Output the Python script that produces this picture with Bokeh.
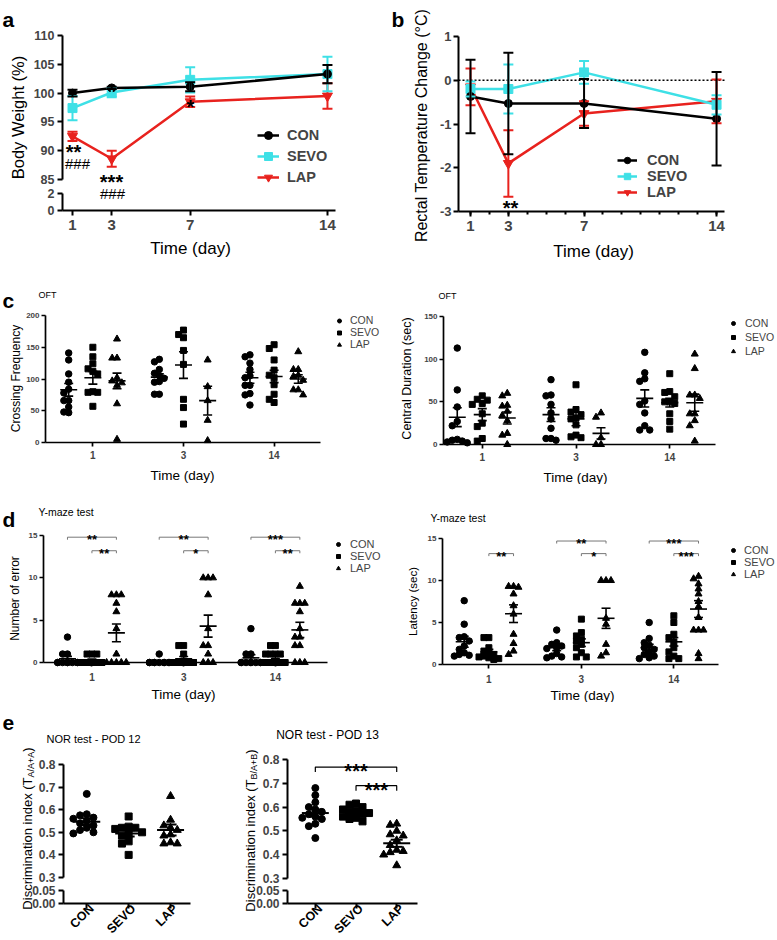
import math
from bokeh.plotting import figure
from bokeh.models import (Range1d, LinearAxis, FixedTicker, Label, Legend,
                          LegendItem, Whisker, TeeHead, ColumnDataSource)
from bokeh.layouts import row, column
from bokeh.embed import file_html
from bokeh.resources import INLINE

FONT = "Liberation Sans"
CYAN = "#3ee0e6"
RED = "#e8221e"

# ---------------- data ----------------
days = [1, 3, 7, 14]
groups = ["CON", "SEVO", "LAP"]
beh_day_labels = ["1", "3", "14"]

# (a) body weight (%) mean / SEM
bw_con = [100.0, 100.9, 101.1, 103.3]
bw_con_sem = [0.6, 0.2, 0.8, 1.6]
bw_sevo = [97.4, 100.1, 102.3, 103.3]
bw_sevo_sem = [2.1, 0.8, 2.2, 3.0]
bw_lap = [92.5, 88.6, 98.5, 99.5]
bw_lap_sem = [0.8, 1.4, 0.9, 2.2]
bw_ticks = [85, 90, 95, 100, 105, 110]
bw_low_ticks = [0, 2]

# (b) rectal temperature change mean / SEM
rt_con = [-0.37, -0.53, -0.53, -0.88]
rt_con_sem = [0.84, 1.16, 0.56, 1.07]
rt_sevo = [-0.20, -0.20, 0.18, -0.56]
rt_sevo_sem = [0.17, 0.56, 0.26, 0.22]
rt_lap = [-0.15, -1.90, -0.76, -0.48]
rt_lap_sem = [0.42, 0.76, 0.28, 0.50]
rt_ticks = [-3, -2, -1, 0, 1]

# (c) OFT crossing frequency, per group, per day (1, 3, 14)
cf_con = [[141, 130, 108, 95, 84, 78, 66, 66, 56, 47, 48],
          [131, 127, 115, 109, 105, 101, 96, 95, 76, 76],
          [138, 135, 125, 115, 105, 102, 90, 90, 77, 75, 59]]
cf_sevo = [[150, 135, 124, 116, 112, 108, 80, 79, 79, 57],
           [177, 170, 165, 145, 123, 68, 55, 29],
           [154, 148, 130, 114, 106, 102, 91, 76, 68, 63]]
cf_lap = [[163, 133, 133, 102, 97, 94, 90, 61, 5],
          [130, 88, 66, 35, 3],
          [143, 115, 115, 106, 104, 98, 83, 83, 75]]
cf_mean = [[83, 103, 102], [102, 122, 104], [97, 66, 100]]
cf_sem = [[10, 5, 8.6], [10, 21, 9.7], [12.3, 22.7, 6.8]]
cf_ticks = [0, 50, 100, 150, 200]

# (c) OFT central duration (sec)
cd_con = [[113, 64, 44, 27, 22, 6, 5, 4, 3, 2],
          [76, 58, 57, 47, 37, 30, 19, 7, 7, 5],
          [108, 84, 77, 74, 51, 47, 37, 22, 17, 17]]
cd_sevo = [[57, 53, 52, 48, 47, 36, 25, 21, 7, 4],
           [70, 41, 38, 35, 31, 30, 23, 11, 9, 8],
           [83, 62, 61, 56, 50, 50, 48, 36, 27, 18]]
cd_lap = [[60, 57, 46, 45, 39, 34, 28, 13, 11, 0],
          [37, 32, 8, 0, 0],
          [106, 89, 58, 58, 54, 36, 36, 28, 22, 4]]
cd_mean = [[32, 35, 54], [35, 30, 49], [31, 13, 49]]
cd_sem = [[11, 8, 10], [7, 8, 5], [7, 6.6, 10]]
cd_ticks = [0, 50, 100, 150]

# (d) Y-maze number of errors
er_con = [[3, 1, 1, 0, 0, 0, 0, 0, 0, 0, 0],
          [1, 0, 0, 0, 0, 0, 0, 0, 0, 0],
          [4, 1, 1, 0, 0, 0, 0, 0, 0, 0, 0]]
er_sevo = [[1, 1, 1, 0, 0, 0, 0, 0, 0, 0, 0],
           [2, 2, 1, 0, 0, 0, 0, 0, 0, 0, 0],
           [2, 2, 1, 1, 1, 1, 0, 0, 0, 0, 0]]
er_lap = [[8, 8, 8, 7, 6, 4, 1, 0, 0, 0, 0, 0],
          [10, 10, 10, 8, 4, 2, 2, 1, 0, 0, 0],
          [9, 7, 7, 7, 6, 4, 3, 3, 2, 2, 0, 0, 0]]
er_mean = [[0.45, 0.1, 0.55], [0.27, 0.45, 0.73], [3.5, 4.3, 3.85]]
er_sem = [[0.27, 0.1, 0.37], [0.14, 0.25, 0.27], [1.05, 1.3, 0.9]]
er_brackets = [(0, 0, 2, 14.8, "**"), (0, 1, 2, 13.2, "**"),
               (1, 0, 2, 14.8, "**"), (1, 1, 2, 13.2, "*"),
               (2, 0, 2, 14.8, "***"), (2, 1, 2, 13.2, "**")]
ym_ticks = [0, 5, 10, 15]

# (d) Y-maze latency (sec)
la_con = [[7.6, 4.8, 3.3, 3.2, 2.8, 2.2, 1.8, 1.4, 1.2, 1.1, 1.0],
          [4.1, 2.6, 2.4, 2.2, 2.0, 1.9, 1.3, 1.0, 0.9, 0.8],
          [5.0, 3.1, 2.6, 2.3, 2.0, 1.8, 1.5, 1.2, 1.0, 0.8, 0.7]]
la_sevo = [[3.2, 3.2, 2.0, 1.6, 1.4, 1.2, 1.0, 0.9, 0.8, 0.7, 0.6],
           [5.4, 3.8, 3.4, 3.0, 2.8, 2.4, 2.0, 1.4, 0.9, 0.9],
           [5.8, 5.0, 3.6, 3.2, 2.7, 2.0, 1.5, 1.0, 0.7, 0.7]]
la_lap = [[9.3, 9.3, 9.2, 8.4, 7.0, 6.0, 3.6, 2.5, 1.6, 1.2],
          [10, 10, 10, 5.5, 4.8, 2.4, 1.4, 1.0],
          [10.5, 10.2, 9.6, 9.0, 8.4, 7.5, 6.9, 5.6, 4.1, 4.1, 4.1, 1.3, 0.7]]
la_mean = [[2.7, 2.0, 2.0], [1.5, 2.6, 2.7], [6.05, 5.5, 6.6]]
la_sem = [[0.65, 0.35, 0.4], [0.3, 0.45, 0.5], [1.05, 1.2, 1.0]]
la_brackets = [(0, 1, 2, 13.2, "**"),
               (1, 0, 2, 14.7, "**"), (1, 1, 2, 13.2, "*"),
               (2, 0, 2, 14.7, "***"), (2, 1, 2, 13.2, "***")]

# (e) NOR discrimination index
n12_con = [0.67, 0.58, 0.575, 0.565, 0.56, 0.55, 0.54, 0.53, 0.52, 0.51, 0.50, 0.495]
n12_sevo = [0.57, 0.525, 0.52, 0.52, 0.515, 0.50, 0.49, 0.485, 0.46, 0.45, 0.40]
n12_lap = [0.66, 0.555, 0.53, 0.52, 0.51, 0.49, 0.485, 0.455, 0.45, 0.45]
n12_mean = [0.547, 0.495, 0.51]
n12_sem = [0.015, 0.014, 0.024]
n13_con = [0.68, 0.65, 0.62, 0.60, 0.59, 0.58, 0.57, 0.56, 0.555, 0.55, 0.53, 0.52, 0.47]
n13_sevo = [0.615, 0.61, 0.60, 0.59, 0.585, 0.58, 0.575, 0.57, 0.56, 0.555, 0.55, 0.54]
n13_lap = [0.53, 0.525, 0.50, 0.485, 0.48, 0.46, 0.44, 0.42, 0.415, 0.41, 0.40, 0.355]
n13_mean = [0.575, 0.577, 0.448]
n13_sem = [0.015, 0.008, 0.015]
n13_brackets = [(0, 2, 0.768, "***"), (1, 2, 0.69, "***")]
nor_ticks = [0.3, 0.4, 0.5, 0.6, 0.7, 0.8]
nor_low_ticks = [0.0, 0.05]

# ---------------- helpers ----------------
ARIAL = {'D': 722, 'i': 222, 's': 500, 'c': 500, 'r': 333, 'm': 833, 'n': 556,
         'a': 556, 't': 278, 'o': 556, ' ': 278, 'd': 556, 'e': 556, 'x': 500,
         '(': 333, 'T': 611, 'A': 667, '/': 278, '+': 584, ')': 333, 'B': 667}


def twidth(s, size):
    return sum(ARIAL.get(ch, 556) for ch in s) * size / 1000.0


class Panel:
    """A figure whose frame is its whole canvas; box = pixel box where xr/yr map."""

    def __init__(self, canvas, box, xr, yr):
        cl, ct, cr, cb = canvas
        self.cl, self.ct, self.cr, self.cb = canvas
        self.fl, self.ft, self.fr, self.fb = box
        self.ppx = (self.fr - self.fl) / (xr[1] - xr[0])
        self.ppy = (self.fb - self.ft) / (yr[1] - yr[0])
        self.xr, self.yr = xr, yr
        p = figure(width=cr - cl, height=cb - ct,
                   x_range=Range1d(self.X(cl), self.X(cr)),
                   y_range=Range1d(self.Y(cb), self.Y(ct)),
                   min_border_left=0, min_border_right=0, min_border_top=0,
                   min_border_bottom=0, title=None,
                   x_axis_location=None, y_axis_location=None,
                   output_backend="svg", toolbar_location=None, tools="")
        p.grid.visible = False
        p.outline_line_color = None
        self.p = p

    def X(self, rx):
        return self.xr[0] + (rx - self.fl) / self.ppx

    def Y(self, ry):
        return self.yr[0] + (self.fb - ry) / self.ppy


def label_at(pn, x, y, s, size, bold=False, align="left", baseline="middle", angle=0.0):
    pn.p.add_layout(Label(x=x, y=y, text=s, text_font=FONT,
                          text_font_size=f"{size}px",
                          text_font_style="bold" if bold else "normal",
                          text_align=align, text_baseline=baseline, angle=angle,
                          text_color="black"))


def text(pn, rx, ry, s, size, bold=False, align="left", baseline="middle", angle=0.0):
    label_at(pn, pn.X(rx), pn.Y(ry), s, size, bold, align, baseline, angle)


def axis(pn, side, ticks, labels, size, lw, fixed, bounds, tick_out=5, standoff=4,
         minor=None, line=True):
    ax = LinearAxis(ticker=FixedTicker(ticks=list(ticks), minor_ticks=list(minor or [])),
                    major_label_overrides={t: l for t, l in zip(ticks, labels)},
                    axis_line_width=lw, axis_line_color="black" if line else None,
                    major_tick_line_width=lw, major_tick_out=tick_out, major_tick_in=0,
                    minor_tick_line_width=lw, minor_tick_out=3 if minor else 0, minor_tick_in=0,
                    major_label_text_font=FONT, major_label_text_font_size=f"{size}px",
                    major_label_text_font_style="bold", major_label_standoff=standoff,
                    fixed_location=fixed, bounds=bounds)
    pn.p.add_layout(ax, side)
    return ax


def bare_left(pn, bounds, lw):
    ax = LinearAxis(ticker=FixedTicker(ticks=[]), bounds=bounds, axis_line_width=lw,
                    major_tick_out=0, major_tick_in=0, minor_tick_out=0, minor_tick_in=0,
                    major_label_standoff=0, fixed_location=pn.X(pn.fl))
    pn.p.add_layout(ax, "left")


def broken_left(pn, main_ticks, low_ticks, low_ref, main_fmt, low_fmt, size, lw, standoff):
    low_pos = [round(pn.Y(r), 5) for r in low_ref]
    bare_left(pn, (main_ticks[0], main_ticks[-1]), lw)
    bare_left(pn, (low_pos[0], low_pos[-1]), lw)
    ticks = list(main_ticks) + low_pos
    labels = [main_fmt(t) for t in main_ticks] + [low_fmt(t) for t in low_ticks]
    axis(pn, "left", ticks, labels, size, lw, pn.X(pn.fl), (low_pos[0], main_ticks[-1]),
         tick_out=5, standoff=standoff, line=False)
    return low_pos


def x_axis(pn, ticks, labels, size, lw, at_ref, tick_out=5, standoff=4, minor=None):
    axis(pn, "below", ticks, labels, size, lw, pn.Y(at_ref), (pn.X(pn.fl), pn.X(pn.fr)),
         tick_out=tick_out, standoff=standoff, minor=minor)


def legend(pn, items, left_ref, bottom_ref, glyph_w, row_h, spacing, size, bold, standoff):
    lg = Legend(items=[LegendItem(label=l, renderers=r) for l, r in items],
                location=(left_ref - pn.cl, pn.cb - bottom_ref),
                glyph_width=glyph_w, glyph_height=row_h, label_height=row_h,
                spacing=spacing, padding=0, margin=0, label_standoff=standoff,
                label_text_font=FONT, label_text_font_size=f"{size}px",
                label_text_font_style="bold" if bold else "normal",
                border_line_color=None, background_fill_alpha=0)
    pn.p.add_layout(lg)


def series(pn, xs, m, s, color, marker, msize):
    src = ColumnDataSource(dict(x=xs, y=m, lo=[a - b for a, b in zip(m, s)],
                                hi=[a + b for a, b in zip(m, s)]))
    ln = pn.p.line("x", "y", source=src, line_color=color, line_width=2.5)
    pn.p.add_layout(Whisker(source=src, base="x", lower="lo", upper="hi",
                            line_color=color, line_width=2, level="glyph",
                            upper_head=TeeHead(size=10, line_color=color, line_width=2),
                            lower_head=TeeHead(size=10, line_color=color, line_width=2)))
    sc = pn.p.scatter("x", "y", source=src, marker=marker, size=msize,
                      fill_color=color, line_color=color)
    return [ln, sc]


def spread(vals, step, ytol, maxw):
    cands = [0.0]
    k = 1
    while k * step <= maxw + 1e-9:
        cands += [-k * step, k * step]
        k += 1
    placed, out = [], []
    for i, v in enumerate(vals):
        choice = None
        for c in cands:
            if all(abs(c - px) >= step * 0.99 or abs(v - py) >= ytol for px, py in placed):
                choice = c
                break
        if choice is None:
            choice = cands[i % len(cands)]
        placed.append((choice, v))
        out.append(choice)
    return out


MARKERS = ["circle", "square", "triangle"]


def dots(pn, data, means, sems, positions, offsets, step, ytol_px, maxw, msizes,
         dash, cap, lw):
    rends = []
    for g in range(3):
        xs, ys = [], []
        for d, pos in enumerate(positions):
            vals = data[g][d]
            offs = spread(vals, step, ytol_px / pn.ppy, maxw)
            xs += [pos + offsets[g] + o for o in offs]
            ys += list(vals)
        rends.append(pn.p.scatter(xs, ys, marker=MARKERS[g], size=msizes[g],
                                  fill_color="black", line_color="black"))
    for g in range(3):
        mx = [pos + offsets[g] for pos in positions]
        src = ColumnDataSource(dict(x=mx, m=means[g],
                                    lo=[a - b for a, b in zip(means[g], sems[g])],
                                    hi=[a + b for a, b in zip(means[g], sems[g])]))
        pn.p.scatter("x", "m", source=src, marker="dash", size=dash,
                     line_color="black", line_width=lw)
        pn.p.add_layout(Whisker(source=src, base="x", lower="lo", upper="hi",
                                line_color="black", line_width=lw, level="annotation",
                                upper_head=TeeHead(size=cap, line_color="black", line_width=lw),
                                lower_head=TeeHead(size=cap, line_color="black", line_width=lw)))
    return rends


def brackets(pn, specs, tick_px, color, lw, size, below_px):
    xs, ys = [], []
    t = tick_px / pn.ppy
    for (a, b, lvl, s) in specs:
        xs.append([a, a, b, b])
        ys.append([lvl - t, lvl, lvl, lvl - t])
        label_at(pn, (a + b) / 2, lvl - below_px / pn.ppy, s, size, bold=True,
                 align="center", baseline="alphabetic")
    pn.p.multi_line(xs, ys, line_color=color, line_width=lw)


def sub_ylabel(pn, cx, cy, main, sub, msize, ssize, shift):
    wm, ws, wc = twidth(main, msize), twidth(sub, ssize), twidth(")", msize)
    y0 = cy + (wm + ws + wc) / 2.0
    for rx, ry, s, sz in [(cx, y0, main, msize), (cx + shift, y0 - wm, sub, ssize),
                          (cx, y0 - wm - ws, ")", msize)]:
        text(pn, rx, ry, s, sz, align="left", angle=math.pi / 2)


ROT = math.pi / 2
DAY_POS = [0.0, 3.75, 7.5]
OFFS = [-1.0, 0.0, 1.0]

# ---------------- (a) ----------------
A = Panel((0, 0, 390, 264), (62, 35, 335, 179), (0.49, 14.41), (85, 110))
ra_lap = series(A, days, bw_lap, bw_lap_sem, RED, "inverted_triangle", 10)
ra_sevo = series(A, days, bw_sevo, bw_sevo_sem, CYAN, "square", 9)
ra_con = series(A, days, bw_con, bw_con_sem, "black", "circle", 8)
broken_left(A, bw_ticks, bw_low_ticks, [210 - 8.5 * v for v in bw_low_ticks],
            lambda t: str(t), lambda t: str(t), 12.5, 2, 3)
x_axis(A, days, [str(d) for d in days], 15, 2, 210, standoff=4)
legend(A, [("CON", ra_con), ("SEVO", ra_sevo), ("LAP", ra_lap)], 257, 187, 22, 20, 1, 14.5, True, 8)
text(A, 2, 19, "a", 21, bold=True, baseline="alphabetic")
text(A, 17, 117, "Body Weight (%)", 16.5, align="center", angle=ROT)
text(A, 190, 248, "Time (day)", 17, align="center")
text(A, 73, 151.6, "**", 20, bold=True, align="center")
text(A, 77, 163, "###", 15, align="center")
text(A, 111, 181.6, "***", 20, bold=True, align="center")
text(A, 112, 192.5, "###", 15, align="center")
text(A, 190, 106.6, "*", 20, bold=True, align="center")

# ---------------- (b) ----------------
B = Panel((390, 0, 775, 264), (458, 36, 724, 211), (0.366, 14.42), (-3, 1))
rb_lap = series(B, days, rt_lap, rt_lap_sem, RED, "inverted_triangle", 10)
rb_sevo = series(B, days, rt_sevo, rt_sevo_sem, CYAN, "square", 9)
rb_con = series(B, days, rt_con, rt_con_sem, "black", "circle", 8)
B.p.segment(x0=[B.X(458)], y0=[0], x1=[B.X(724)], y1=[0], line_color="black",
            line_dash="2 2", line_width=1.5)
axis(B, "left", rt_ticks, [str(t) for t in rt_ticks], 13, 2, B.X(458), (-3, 1), standoff=2)
x_axis(B, days, [str(d) for d in days], 15, 2, 211, standoff=4, minor=list(range(1, 15)))
legend(B, [("CON", rb_con), ("SEVO", rb_sevo), ("LAP", rb_lap)], 617, 200, 20, 16, 0, 14.5, True, 10)
text(B, 391, 19, "b", 21, bold=True, baseline="alphabetic")
text(B, 421, 125, "Rectal Temperature Change (°C)", 16, align="center", angle=ROT)
text(B, 593, 251, "Time (day)", 17, align="center")
text(B, 510, 207.6, "**", 20, bold=True, align="center")


def behaviour(pn, data, means, sems, yticks, leg_left, leg_bottom, leg_row, leg_size,
              leg_standoff, ystep_px, xstand):
    r = dots(pn, data, means, sems, DAY_POS, OFFS, 0.2, ystep_px, 0.4, [6.5, 6, 7], 17, 9, 1.6)
    axis(pn, "left", yticks, [str(t) for t in yticks], 8, 1.7, pn.X(pn.fl),
         (yticks[0], yticks[-1]), tick_out=4, standoff=2)
    x_axis(pn, DAY_POS, beh_day_labels, 10, 1.7, pn.fb, tick_out=4, standoff=xstand)
    legend(pn, list(zip(groups, [[x] for x in r])), leg_left, leg_bottom, 10, leg_row, 0,
           leg_size, False, leg_standoff)


# ---------------- (c) ----------------
CL = Panel((0, 264, 390, 484), (45, 315, 320, 442), (-1.96, 9.42), (0, 200))
behaviour(CL, [cf_con, cf_sevo, cf_lap], cf_mean, cf_sem, cf_ticks, 334, 350, 11, 10.5, 6, 5.5, 4)
text(CL, 2, 300, "c", 21, bold=True, baseline="alphabetic")
text(CL, 38, 294, "OFT", 9)
text(CL, 15, 378, "Crossing Frequency", 12, align="center", angle=ROT)
text(CL, 182, 475, "Time (day)", 13.5, align="center")

CR = Panel((390, 264, 775, 484), (443, 316, 715, 444), (-1.55, 9.33), (0, 150))
behaviour(CR, [cd_con, cd_sevo, cd_lap], cd_mean, cd_sem, cd_ticks, 728, 358, 14, 10.5, 7, 5.5, 4)
text(CR, 438, 295, "OFT", 9)
text(CR, 406, 378, "Central Duration (sec)", 12.5, align="center", angle=ROT)
text(CR, 575, 477, "Time (day)", 13.5, align="center")

# ---------------- (d) ----------------
DL = Panel((0, 484, 390, 702), (43, 535, 327, 662), (-1.98, 9.63), (0, 15))
behaviour(DL, [er_con, er_sevo, er_lap], er_mean, er_sem, ym_ticks, 333, 574, 12, 11, 7, 4.5, 6)
brackets(DL, [(DAY_POS[d] + OFFS[g1], DAY_POS[d] + OFFS[g2], lv, s) for d, g1, g2, lv, s in er_brackets],
         2.5, "#777777", 1, 13, 2.5)
text(DL, 2, 519, "d", 21, bold=True, baseline="alphabetic")
text(DL, 38, 511, "Y-maze test", 10.5)
text(DL, 14, 598, "Number of error", 12, align="center", angle=ROT)
text(DL, 183, 694, "Time (day)", 13.5, align="center")

DR = Panel((390, 484, 775, 702), (442, 538, 718, 664), (-1.88, 9.31), (0, 15))
behaviour(DR, [la_con, la_sevo, la_lap], la_mean, la_sem, ym_ticks, 728, 580, 12, 11, 6, 5, 6)
brackets(DR, [(DAY_POS[d] + OFFS[g1], DAY_POS[d] + OFFS[g2], lv, s) for d, g1, g2, lv, s in la_brackets],
         2.5, "#777777", 1, 13, 2.5)
text(DR, 430, 517, "Y-maze test", 10.5)
text(DR, 412, 601, "Latency (sec)", 11.5, align="center", angle=ROT)
text(DR, 582, 695, "Time (day)", 13.5, align="center")


# ---------------- (e) ----------------
def nor(pn, data, means, sems, low_ref):
    dots(pn, [[v] for v in data], [[m] for m in means], [[s] for s in sems], [0.0],
         [0.0, 1.0, 2.0], 0.16, 6, 0.4, [7, 7, 8], 27, 12, 2)
    broken_left(pn, nor_ticks, nor_low_ticks, low_ref,
                lambda t: f"{t:.1f}", lambda t: f"{t:.2f}", 12, 2, 3)
    x_axis(pn, [0, 1, 2], ["", "", ""], 13, 2, low_ref[0], tick_out=5, standoff=5)
    for g, name in enumerate(groups):
        label_at(pn, g + 5.0 / pn.ppx, pn.Y(low_ref[0] + 3), name, 12.5, bold=True,
                 align="right", baseline="middle", angle=math.pi / 4)


EL = Panel((0, 702, 230, 938), (63, 764, 190, 877), (-0.555, 2.476), (0.3, 0.8))
nor(EL, [n12_con, n12_sevo, n12_lap], n12_mean, n12_sem, [903, 890])
text(EL, 2, 722, "e", 21, bold=True, baseline="alphabetic")
text(EL, 93, 738, "NOR test - POD 12", 11, align="center")
sub_ylabel(EL, 27, 828, "Discrimination index (T", "A/A+A", 13, 9, 3.5)

ER = Panel((230, 702, 440, 938), (287, 759, 417, 878), (-0.684, 2.511), (0.3, 0.8))
nor(ER, [n13_con, n13_sevo, n13_lap], n13_mean, n13_sem, [903, 890])
brackets(ER, [(g1, g2, lv, s) for g1, g2, lv, s in n13_brackets], 5, "black", 1.2, 20, 4)
text(ER, 327, 734, "NOR test - POD 13", 12, align="center")
sub_ylabel(ER, 250, 830, "Discrimination index (T", "B/A+B", 13, 9, 3.5)

layout = column(row(A.p, B.p), row(CL.p, CR.p), row(DL.p, DR.p), row(EL.p, ER.p))
open("out.html", "w").write(file_html(layout, INLINE))
